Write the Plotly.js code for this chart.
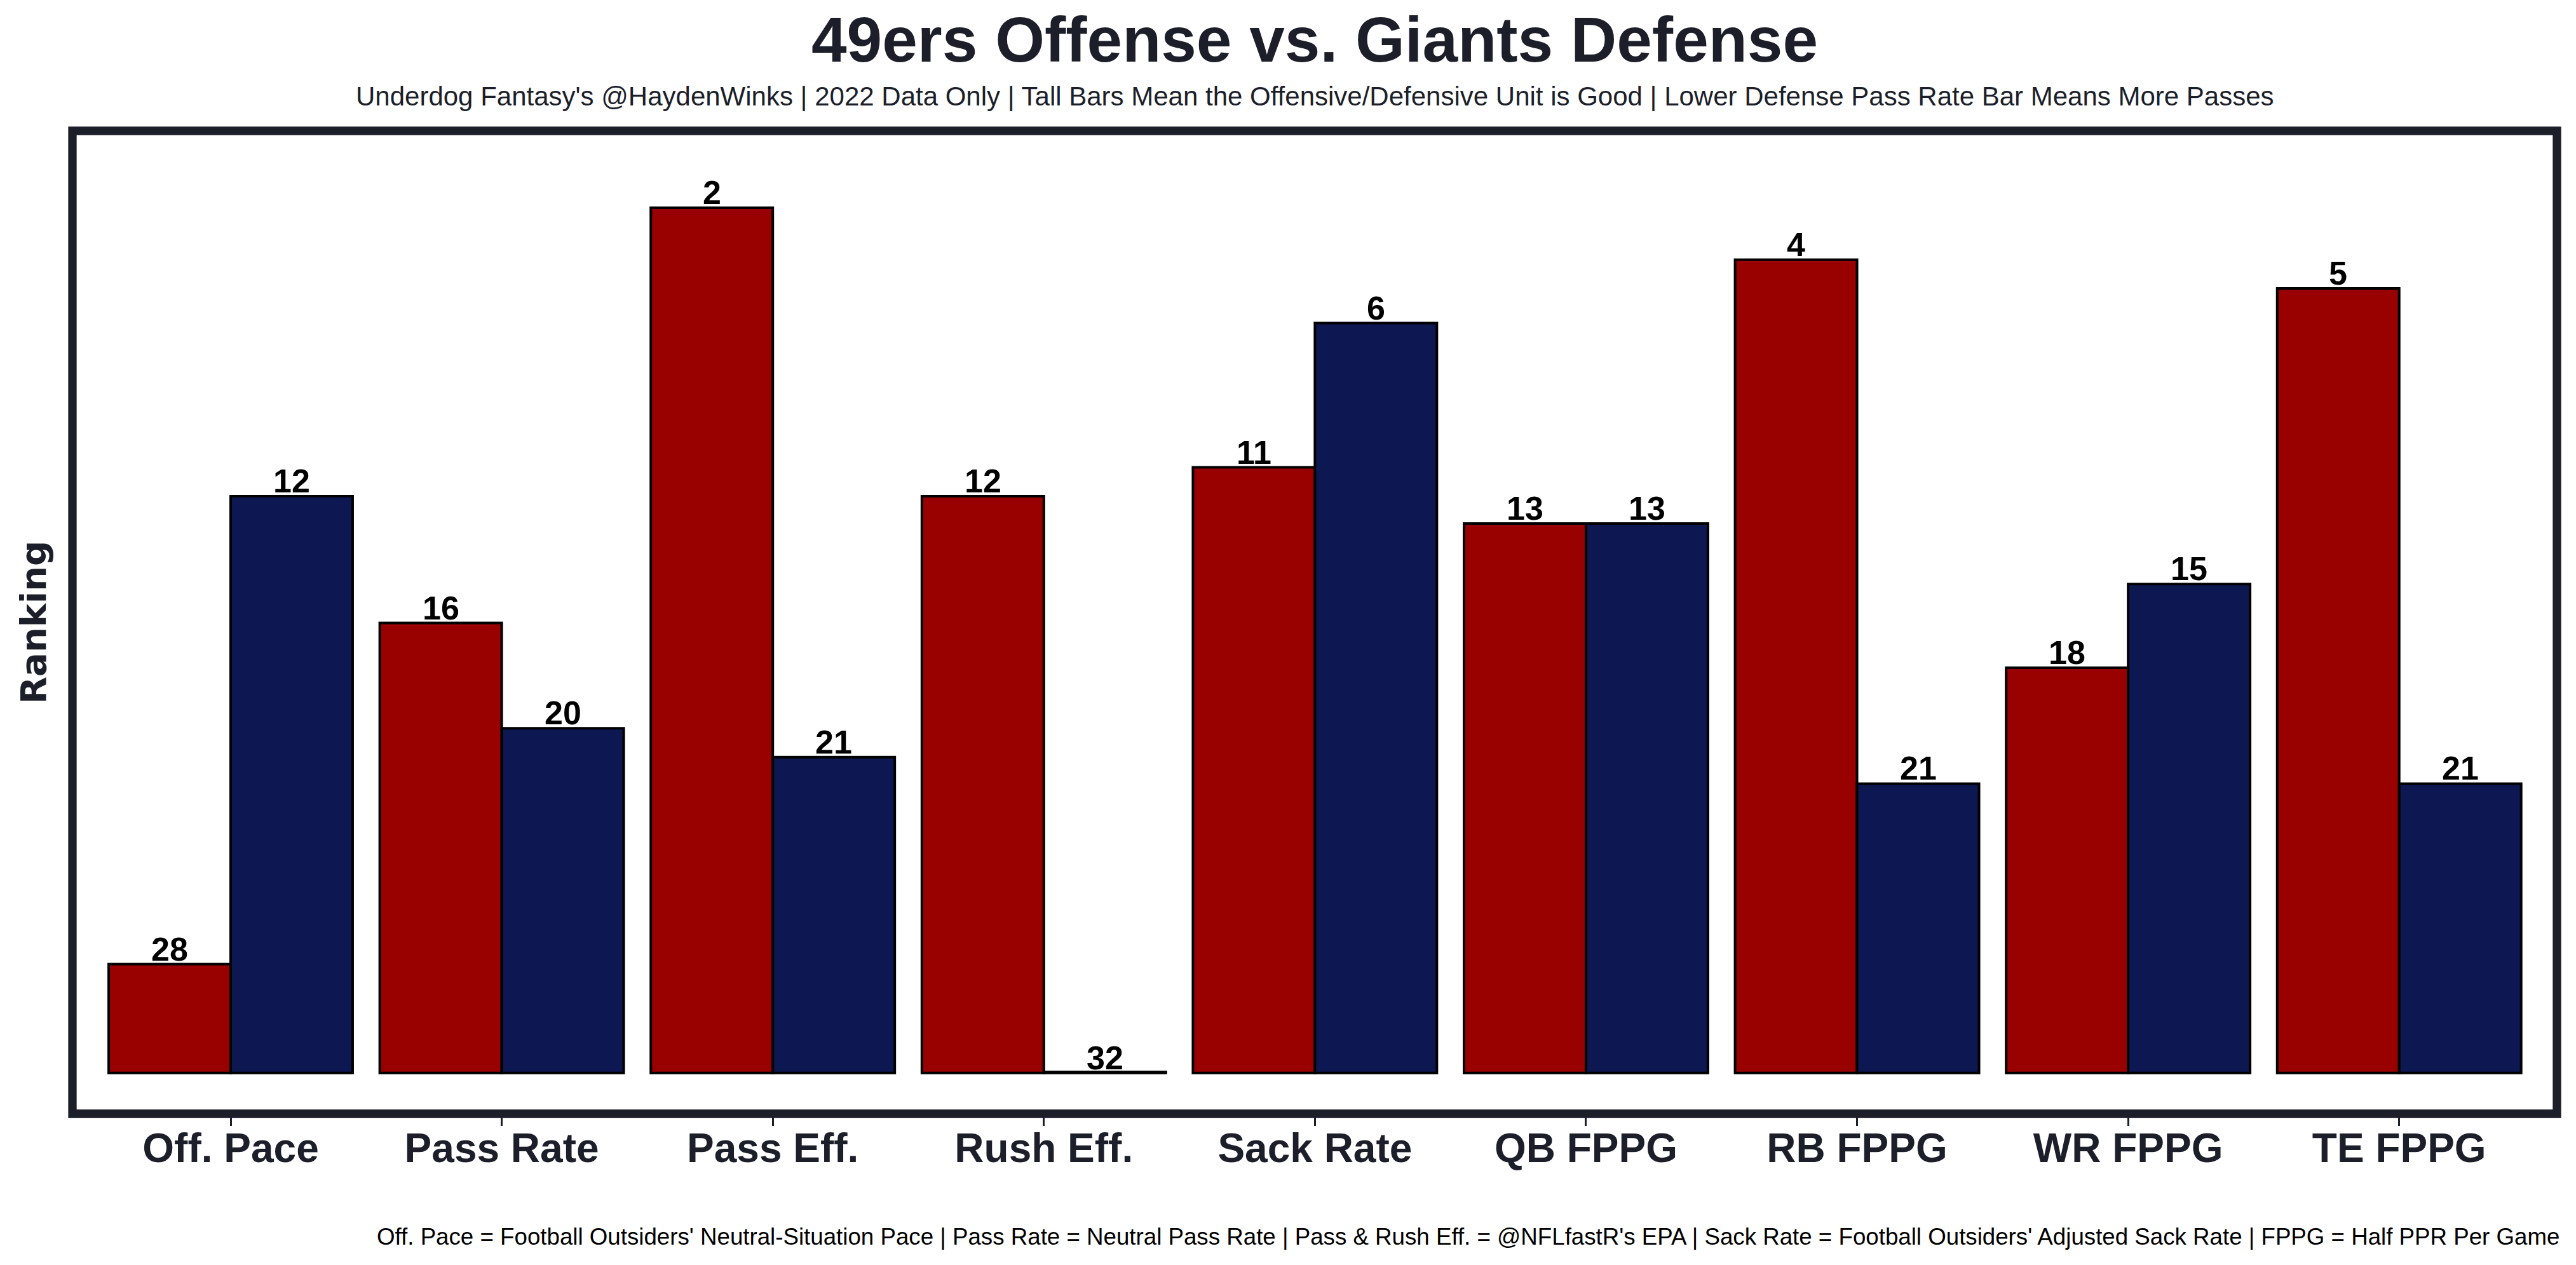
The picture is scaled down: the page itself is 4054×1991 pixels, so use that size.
<!DOCTYPE html>
<html>
<head>
<meta charset="utf-8">
<script src="https://cdn.plot.ly/plotly-3.0.1.min.js"></script>
<style>
  html, body { margin: 0; padding: 0; background: #ffffff; }
  #chart { width: 4054px; height: 1991px; }
</style>
</head>
<body>
<div id="chart"></div>
<script>
// ---------------- data ----------------
const categories = ['Off. Pace', 'Pass Rate', 'Pass Eff.', 'Rush Eff.', 'Sack Rate',
                    'QB FPPG', 'RB FPPG', 'WR FPPG', 'TE FPPG'];
// rank labels printed above the bars
const offenseRankLabels = [28, 16, 2, 12, 11, 13, 4, 18, 5];
const defenseRankLabels = [12, 20, 21, 32, 6, 13, 21, 15, 21];
// bar heights as measured on the chart (bar scale: tall = good)
const offenseBarHeights = [3.77, 15.6, 30.0, 20.0, 21.0, 19.05, 28.2, 14.05, 27.2];
const defenseBarHeights = [20.0, 11.95, 10.95, 0, 26.0, 19.05, 10.03, 16.95, 10.03];

const titleText = '49ers Offense vs. Giants Defense';
const subtitleText = "Underdog Fantasy's @HaydenWinks | 2022 Data Only | Tall Bars Mean the Offensive/Defensive Unit is Good | Lower Defense Pass Rate Bar Means More Passes";
const noteText = "Off. Pace = Football Outsiders' Neutral-Situation Pace | Pass Rate = Neutral Pass Rate | Pass & Rush Eff. = @NFLfastR's EPA | Sack Rate = Football Outsiders' Adjusted Sack Rate | FPPG = Half PPR Per Game";
const yLabel = 'Ranking';

// ---------------- styling / layout ----------------
const FONT = 'Liberation Sans, Arial, Helvetica, sans-serif';
const LABEL_FONT = 'DejaVu Sans, Liberation Sans, sans-serif';
const DARK = '#1c1f2a';
const RED = '#990000';
const NAVY = '#0d1752';

const W = 4054, H = 1991;
const M = { l: 114, r: 30, t: 206, b: 238 };
const plotTop = M.t, plotBottom = H - M.b, plotLeft = M.l, plotRight = W - M.r;
const ph = plotBottom - plotTop, pw = plotRight - plotLeft;
const pyToPaper = py => (plotBottom - py) / ph;
const pxToPaper = px => (px - plotLeft) / pw;

const BARGAP = 0.1;
const halfBar = (1 - BARGAP) / 4;   // centre offset of each bar inside its group

// a zero-height bar is drawn by Plotly as nothing; keep a hairline so its outline shows
const visible = v => Math.max(v, 0.03);

const common = {
  type: 'bar',
  x: categories,
  hoverinfo: 'skip',
  showlegend: false
};

const traces = [
  Object.assign({}, common, {
    name: 'Offense',
    y: offenseBarHeights.map(visible),
    marker: { color: RED, line: { color: '#000000', width: 4 } }
  }),
  Object.assign({}, common, {
    name: 'Defense',
    y: defenseBarHeights.map(visible),
    marker: { color: NAVY, line: { color: '#000000', width: 4 } }
  })
];

// value labels above each bar (placed on the data scale)
const labelFont = { family: FONT, size: 52, color: '#000000', weight: 'bold' };
const barLabel = (i, h, lab, side) => ({
  text: String(lab), xref: 'x', yref: 'y',
  x: i + side * halfBar, y: h,
  xanchor: 'center', yanchor: 'bottom', yshift: -7,
  showarrow: false, font: labelFont
});
const valueLabels = [];
categories.forEach((c, i) => {
  valueLabels.push(barLabel(i, offenseBarHeights[i], offenseRankLabels[i], -1));
  valueLabels.push(barLabel(i, defenseBarHeights[i], defenseRankLabels[i], +1));
});

const layout = {
  width: W, height: H,
  margin: M,
  paper_bgcolor: '#ffffff',
  plot_bgcolor: '#ffffff',
  barmode: 'group',
  bargap: BARGAP,
  bargroupgap: 0,
  showlegend: false,
  font: { family: FONT, color: DARK },
  xaxis: {
    type: 'category',
    range: [-0.5837, 8.582],
    showgrid: false, zeroline: false, showline: false,
    ticks: 'outside', ticklen: 18, tickwidth: 3, tickcolor: DARK,
    ticklabelstandoff: -20,
    tickfont: { family: FONT, size: 64, color: DARK, weight: 'bold' },
    fixedrange: true
  },
  yaxis: {
    range: [-1.4166, 32.666],
    showgrid: false, zeroline: false, showline: false,
    showticklabels: false, ticks: '',
    fixedrange: true
  },
  shapes: [{
    type: 'rect', xref: 'paper', yref: 'paper',
    x0: 0, x1: 1, y0: 0, y1: 1,
    line: { color: DARK, width: 13.3 },
    fillcolor: 'rgba(0,0,0,0)',
    layer: 'above'
  }],
  annotations: [
    { text: titleText, xref: 'paper', yref: 'paper', x: 0.5, xanchor: 'center',
      y: pyToPaper(120), yanchor: 'bottom', showarrow: false,
      font: { family: FONT, size: 100, color: DARK, weight: 'bold' } },
    { text: subtitleText, xref: 'paper', yref: 'paper', x: 0.5, xanchor: 'center',
      y: pyToPaper(177), yanchor: 'bottom', showarrow: false,
      font: { family: FONT, size: 42, color: DARK } },
    { text: noteText, xref: 'paper', yref: 'paper', x: pxToPaper(4030), xanchor: 'right',
      y: pyToPaper(1968.5), yanchor: 'bottom', showarrow: false,
      font: { family: FONT, size: 36.7, color: '#000000' } },
    { text: yLabel, xref: 'paper', yref: 'paper', x: pxToPaper(52.5), xanchor: 'center',
      y: 0.5, yanchor: 'middle', textangle: -90, showarrow: false,
      font: { family: LABEL_FONT, size: 56, color: DARK, weight: 'bold' } }
  ].concat(valueLabels)
};

Plotly.newPlot('chart', traces, layout, { displayModeBar: false, staticPlot: true });
</script>
</body>
</html>
